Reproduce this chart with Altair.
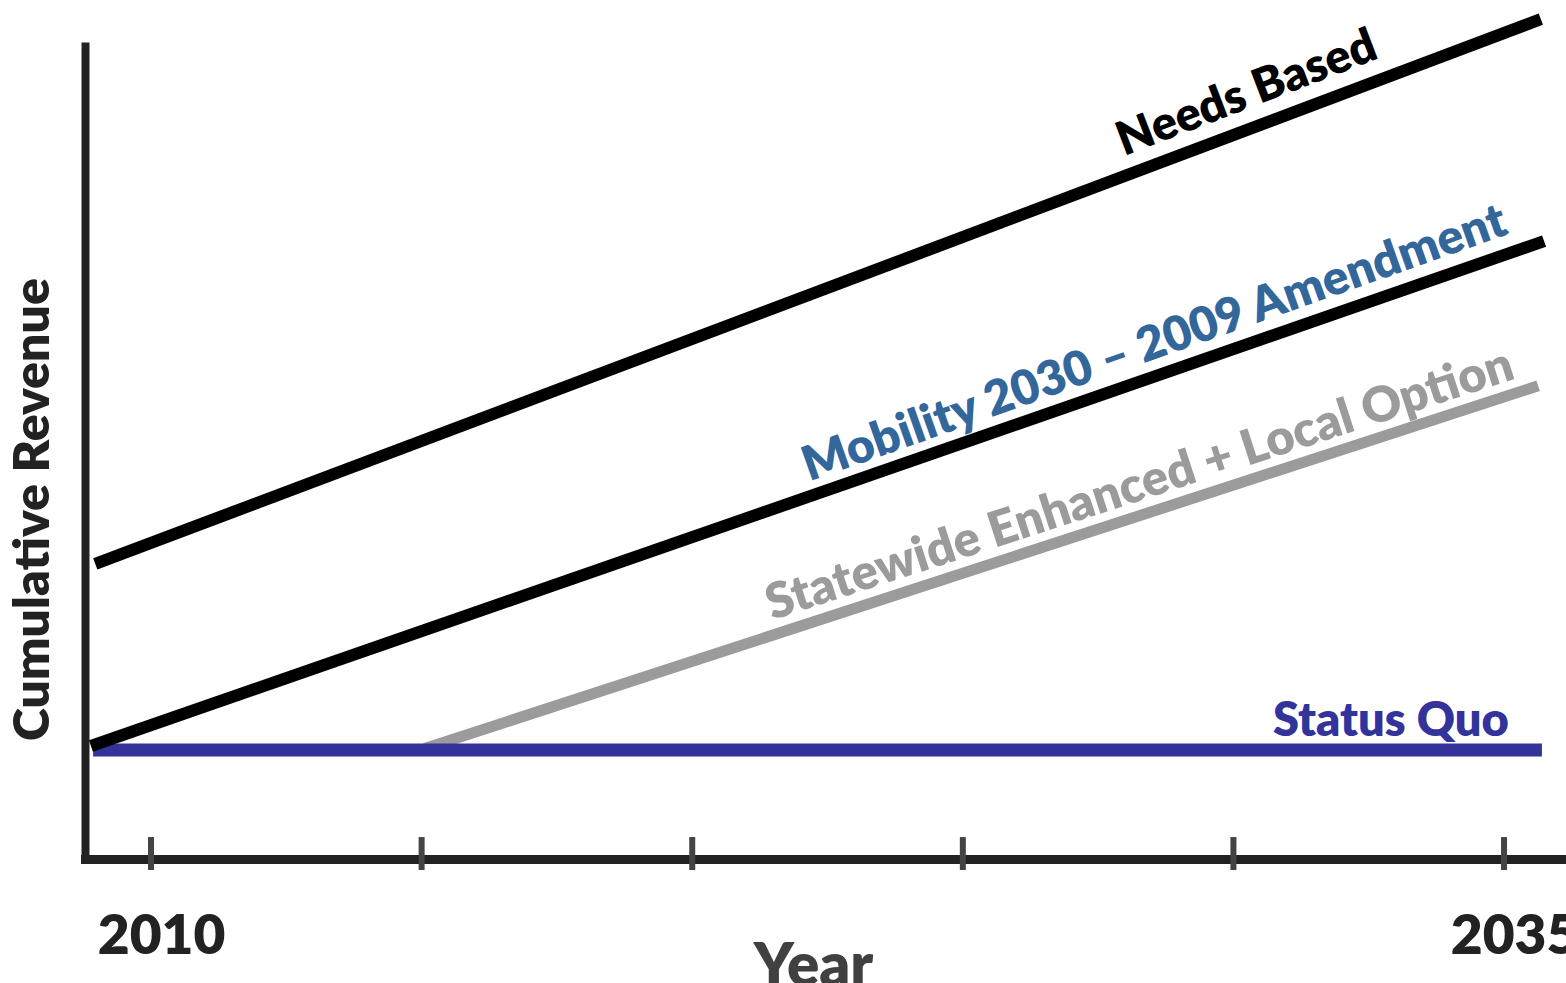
import altair as alt
import pandas as pd

# ---- data ----
series = ["Statewide Enhanced + Local Option", "Status Quo", "Needs Based",
          "Mobility 2030 – 2009 Amendment"]
start_year = [2015.06, 2008.93, 2008.97, 2008.89]
start_rev = [13.6, 13.4, 36.3, 13.9]
end_year = [2035.63, 2035.70, 2035.68, 2035.74]
end_rev = [58.2, 13.4, 103.3, 76.0]

label_year = [2028.27, 2032.91, 2030.25, 2028.55]
label_rev = [46.0, 16.9, 94.1, 63.3]

tick_years = [2010, 2015, 2020, 2025, 2030, 2035]
labelled_years = [2010, 2035]

# ---- styles ----
line_colors = ["#9b9b9b", "#333399", "#000000", "#000000"]
text_colors = ["#9b9b9b", "#333399", "#000000", "#336699"]
line_widths = [11, 13, 12, 12]
text_angles = [342, 0, 339, 340.5]
text_sizes = [49, 47, 47, 48]
FONT = "Lato"
WEIGHT = 800

xscale = alt.Scale(domain=[2008.78, 2036.145], nice=False, zero=False)
yscale = alt.Scale(domain=[0, 100], nice=False, zero=False)

x_axis = alt.Axis(values=labelled_years, format="d", title="Year", grid=False,
                  ticks=False, tickSize=0, domainColor="#222222", domainWidth=9,
                  domainCap="square", labelFont=FONT, labelFontSize=55,
                  labelFontWeight=WEIGHT, labelColor="#222222",
                  labelBaseline="alphabetic", labelPadding=94, labelOffset=10,
                  labelFlush=False, labelOverlap=False, titleFont=FONT,
                  titleFontSize=60, titleFontWeight=WEIGHT, titleColor="#404040",
                  titleX=728, titleY=126, titleBaseline="alphabetic",
                  titleAlign="center")
y_axis = alt.Axis(labels=False, ticks=False, grid=False, domainColor="#222222",
                  domainWidth=8, domainCap="square", title="Cumulative Revenue",
                  titleFont=FONT, titleFontSize=50, titleFontWeight=WEIGHT,
                  titleColor="#222222", titleAngle=270, titleX=-52, titleY=463,
                  titleAlign="center", titleBaseline="middle")

X = alt.X("year:Q", scale=xscale, axis=x_axis)
Y = alt.Y("rev:Q", scale=yscale, axis=y_axis)

# tick marks crossing the x axis
ticks_df = pd.DataFrame({"year": tick_years, "rev": [-1.35] * len(tick_years),
                         "rev2": [2.7] * len(tick_years)})
ticks = alt.Chart(ticks_df).mark_rule(color="#444444", strokeWidth=6).encode(
    x=X, y=Y, y2="rev2:Q")

layers = [ticks]
for i, s in enumerate(series):
    df = pd.DataFrame({"year": [start_year[i], end_year[i]],
                       "rev": [start_rev[i], end_rev[i]]})
    layers.append(alt.Chart(df).mark_line(color=line_colors[i],
                                          strokeWidth=line_widths[i],
                                          strokeCap="butt").encode(x=X, y=Y))

for i, s in enumerate(series):
    df = pd.DataFrame({"year": [label_year[i]], "rev": [label_rev[i]], "t": [s]})
    layers.append(alt.Chart(df).mark_text(font=FONT, fontWeight=WEIGHT,
                                          fontSize=text_sizes[i],
                                          color=text_colors[i],
                                          angle=text_angles[i], align="center",
                                          baseline="middle").encode(
        x=X, y=Y, text="t:N"))

chart = alt.layer(*layers).properties(
    width=1481, height=813,
    padding={"left": 85, "top": 46, "right": 0, "bottom": 124},
    autosize=alt.AutoSizeParams(type="none"),
    background="white",
).configure_view(stroke=None)

chart.save("out.html", embed_options={"renderer": "svg", "actions": False})
